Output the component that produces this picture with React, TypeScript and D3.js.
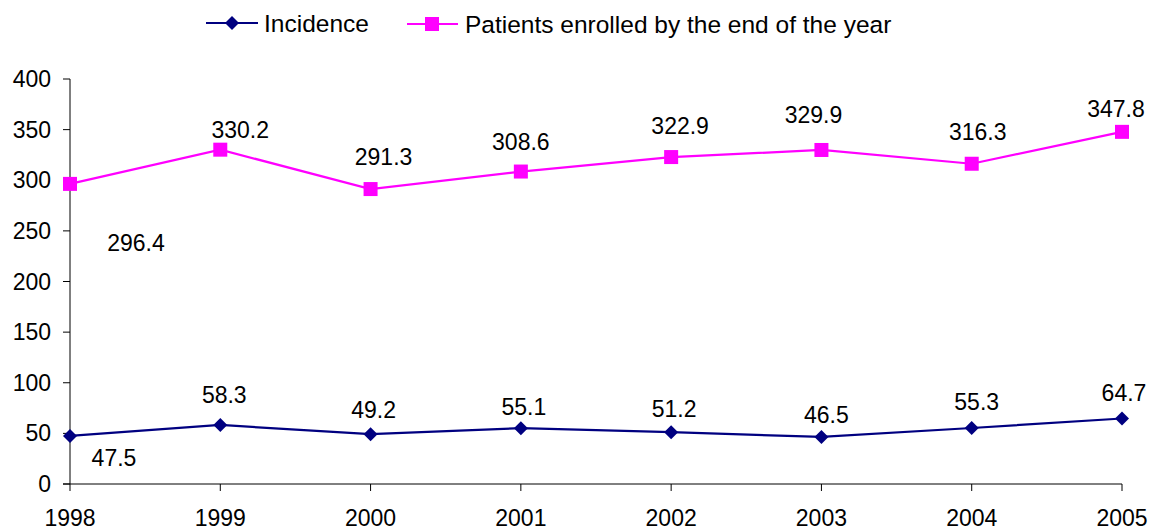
import React from "react";
import * as d3 from "d3";

const years = ["1998", "1999", "2000", "2001", "2002", "2003", "2004", "2005"];
const incidence = [47.5, 58.3, 49.2, 55.1, 51.2, 46.5, 55.3, 64.7];
const enrolled = [296.4, 330.2, 291.3, 308.6, 322.9, 329.9, 316.3, 347.8];
const yTicks = [0, 50, 100, 150, 200, 250, 300, 350, 400];
const seriesNames = ["Incidence", "Patients enrolled by the end of the year"];

// label placement offsets (style, not data)
const incLabelDx = [44, 4, 3, 3, 3, 5, 5, 2];
const incLabelDy = [22, -30, -24, -21, -23, -22, -26, -26];
const enrLabelDx = [66, 20, 13, 0, 9, -8, 6, -6];
const enrLabelDy = [59, -20, -32, -30, -31, -35, -32, -23];

const W = 1151;
const H = 529;
const NAVY = "#000080";
const MAGENTA = "#FF00FF";
const FONT = "'Liberation Sans', Arial, sans-serif";
const FS = 23;
const LEG_FS = 24.5;

export default function App() {
  const x = d3.scalePoint<string>().domain(years).range([70, 1122]);
  const y = d3.scaleLinear().domain([0, 400]).range([484, 79]);

  const line = d3
    .line<number>()
    .x((_, i) => x(years[i]) as number)
    .y((d) => y(d));

  const diamond = (cx: number, cy: number, r = 7) =>
    `M${cx},${cy - r}L${cx + r},${cy}L${cx},${cy + r}L${cx - r},${cy}Z`;

  const fmt = (v: number) => v.toFixed(1);
  const SQ = 14;

  return (
    <svg
      width={W}
      height={H}
      style={{ position: "absolute", left: 0, top: 0, background: "#fff" }}
      fontFamily={FONT}
    >
      {/* Legend */}
      <g>
        <line x1={206} x2={258} y1={23} y2={23} stroke={NAVY} strokeWidth={2} />
        <path d={diamond(232, 23)} fill={NAVY} />
        <text x={264} y={32} fontSize={LEG_FS} fill="#000">
          {seriesNames[0]}
        </text>
        <line x1={407} x2={458} y1={24} y2={24} stroke={MAGENTA} strokeWidth={2} />
        <rect x={432 - SQ / 2} y={24 - SQ / 2} width={SQ} height={SQ} fill={MAGENTA} />
        <text x={465} y={33} fontSize={LEG_FS} fill="#000">
          {seriesNames[1]}
        </text>
      </g>

      {/* Y axis */}
      <g>
        <line x1={70} x2={70} y1={y(400)} y2={y(0)} stroke="#000" strokeWidth={1} />
        {yTicks.map((t) => (
          <g key={t}>
            <line x1={63} x2={70} y1={y(t)} y2={y(t)} stroke="#000" strokeWidth={1} />
            <text
              x={51}
              y={y(t)}
              dy="0.35em"
              textAnchor="end"
              fontSize={FS}
              fill="#000"
            >
              {t}
            </text>
          </g>
        ))}
      </g>

      {/* X axis */}
      <g>
        <line x1={63} x2={1122} y1={y(0)} y2={y(0)} stroke="#000" strokeWidth={1} />
        {years.map((yr) => (
          <g key={yr}>
            <line
              x1={x(yr)}
              x2={x(yr)}
              y1={y(0)}
              y2={y(0) + 7}
              stroke="#000"
              strokeWidth={1}
            />
            <text
              x={x(yr)}
              y={526}
              textAnchor="middle"
              fontSize={FS}
              fill="#000"
            >
              {yr}
            </text>
          </g>
        ))}
      </g>

      {/* Enrolled series */}
      <path d={line(enrolled) || ""} fill="none" stroke={MAGENTA} strokeWidth={2.2} />
      {enrolled.map((v, i) => {
        const cx = x(years[i]) as number;
        const cy = y(v);
        return (
          <g key={"e" + i}>
            <rect x={cx - SQ / 2} y={cy - SQ / 2} width={SQ} height={SQ} fill={MAGENTA} />
            <text
              x={cx + enrLabelDx[i]}
              y={cy + enrLabelDy[i]}
              dy="0.35em"
              textAnchor="middle"
              fontSize={FS}
              fill="#000"
            >
              {fmt(v)}
            </text>
          </g>
        );
      })}

      {/* Incidence series */}
      <path d={line(incidence) || ""} fill="none" stroke={NAVY} strokeWidth={2.2} />
      {incidence.map((v, i) => {
        const cx = x(years[i]) as number;
        const cy = y(v);
        return (
          <g key={"i" + i}>
            <path d={diamond(cx, cy)} fill={NAVY} />
            <text
              x={cx + incLabelDx[i]}
              y={cy + incLabelDy[i]}
              dy="0.35em"
              textAnchor="middle"
              fontSize={FS}
              fill="#000"
            >
              {fmt(v)}
            </text>
          </g>
        );
      })}
    </svg>
  );
}
